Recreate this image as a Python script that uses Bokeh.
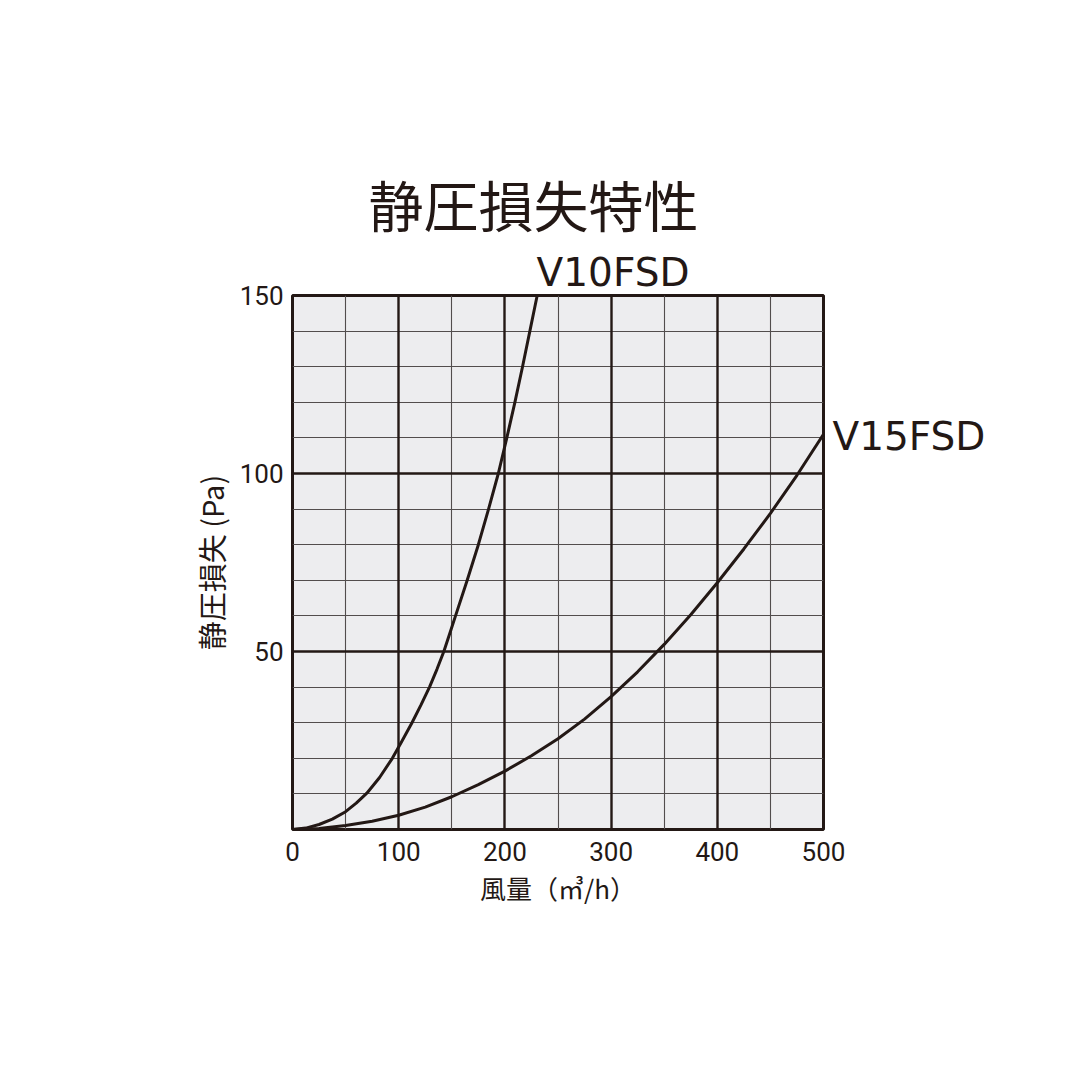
from bokeh.plotting import figure
from bokeh.models import FixedTicker, Grid, LinearAxis, Title
from bokeh.embed import file_html
from bokeh.resources import INLINE

# ---- data ----
title_text = "静圧損失特性"
x_label = "風量（㎥/h）"
y_label = "静圧損失 (Pa)"

x_ticks = [0, 100, 200, 300, 400, 500]
y_ticks = [50, 100, 150]
x_minor = [50, 150, 250, 350, 450]
y_minor = [10, 20, 30, 40, 60, 70, 80, 90, 110, 120, 130, 140]

v10_name = "V10FSD"
v10_x = [0, 12.5, 25, 37.5, 50, 60, 70, 82, 94, 103, 112.5, 121, 129, 136, 142.5,
         148, 153.5, 164.5, 175, 184.6, 193.8, 201.8, 209.4, 216.6, 223.5, 230.4]
v10_y = [0, 0.4, 1.4, 2.9, 5, 7.4, 10.2, 14.6, 20, 24.8, 30, 35, 40, 45, 50,
         55, 60, 70, 80, 90, 100, 110, 120, 130, 140, 150]
v10_label_pos = 301.8      # along x, where the name sits above the chart

v15_name = "V15FSD"
v15_x = [0, 25, 50, 75, 100, 125, 150, 175, 200, 225, 250, 275, 300, 325, 350,
         375, 400, 425, 450, 475, 500]
v15_y = [0, 0.3, 1.1, 2.3, 4.0, 6.3, 9.2, 12.6, 16.4, 20.7, 25.5, 31.0, 37.3, 44.3, 52.0,
         60.3, 69.3, 78.8, 88.8, 99.5, 111]
v15_label_pos = 110.4      # along y, where the name sits right of the chart

INK = "#231815"

p = figure(width=1064, height=1064, x_range=(0, 500), y_range=(0, 150),
           output_backend="svg", toolbar_location=None,
           min_border_left=292, min_border_right=241,
           min_border_top=295, min_border_bottom=235)

p.border_fill_color = "white"
p.background_fill_color = "#ededef"
p.outline_line_color = INK
p.outline_line_width = 3

p.xgrid.visible = False
p.ygrid.visible = False

# thin grid
p.add_layout(Grid(dimension=0, ticker=FixedTicker(ticks=x_minor),
                  grid_line_color="#524d4d", grid_line_width=1.1))
p.add_layout(Grid(dimension=1, ticker=FixedTicker(ticks=y_minor),
                  grid_line_color="#524d4d", grid_line_width=1.1))
# thick grid
p.add_layout(Grid(dimension=0, ticker=FixedTicker(ticks=x_ticks),
                  grid_line_color=INK, grid_line_width=2.4))
p.add_layout(Grid(dimension=1, ticker=FixedTicker(ticks=y_ticks),
                  grid_line_color=INK, grid_line_width=2.4))

def style_axis(ax, size="26px", font="Roboto", standoff=5):
    ax.axis_line_color = None
    ax.major_tick_line_color = None
    ax.minor_tick_line_color = None
    ax.major_label_text_font = font
    ax.major_label_text_font_size = size
    ax.major_label_text_color = INK
    ax.major_label_standoff = standoff

style_axis(p.xaxis[0], standoff=6)
style_axis(p.yaxis[0], standoff=3)
p.xaxis.ticker = FixedTicker(ticks=x_ticks)
p.yaxis.ticker = FixedTicker(ticks=y_ticks)

p.xaxis.axis_label = x_label
p.xaxis.axis_label_text_font = "Noto Sans CJK JP"
p.xaxis.axis_label_text_font_size = "26px"
p.xaxis.axis_label_text_font_style = "normal"
p.xaxis.axis_label_text_color = INK
p.xaxis.axis_label_standoff = 5

p.yaxis.axis_label = y_label
p.yaxis.axis_label_text_font = "Noto Sans CJK JP"
p.yaxis.axis_label_text_font_size = "29px"
p.yaxis.axis_label_text_font_style = "normal"
p.yaxis.axis_label_text_color = INK
p.yaxis.axis_label_standoff = 5

# series name above the chart (an axis with a single labelled tick)
top_ax = LinearAxis(ticker=FixedTicker(ticks=[v10_label_pos]),
                    major_label_overrides={v10_label_pos: v10_name})
style_axis(top_ax, size="39px", font="DejaVu Sans", standoff=-5)
p.add_layout(top_ax, "above")

# series name right of the chart
right_ax = LinearAxis(ticker=FixedTicker(ticks=[v15_label_pos]),
                      major_label_overrides={v15_label_pos: v15_name})
style_axis(right_ax, size="39px", font="DejaVu Sans", standoff=3)
p.add_layout(right_ax, "right")

# title
p.add_layout(Title(text=title_text, align="left", text_font="Noto Sans CJK JP",
                   text_font_size="55px", text_font_style="normal",
                   text_color=INK, standoff=7, offset=76), "above")

# curves
p.line(v10_x, v10_y, line_color=INK, line_width=3, line_join="round")
p.line(v15_x, v15_y, line_color=INK, line_width=3, line_join="round")

open("out.html", "w").write(file_html(p, INLINE))
